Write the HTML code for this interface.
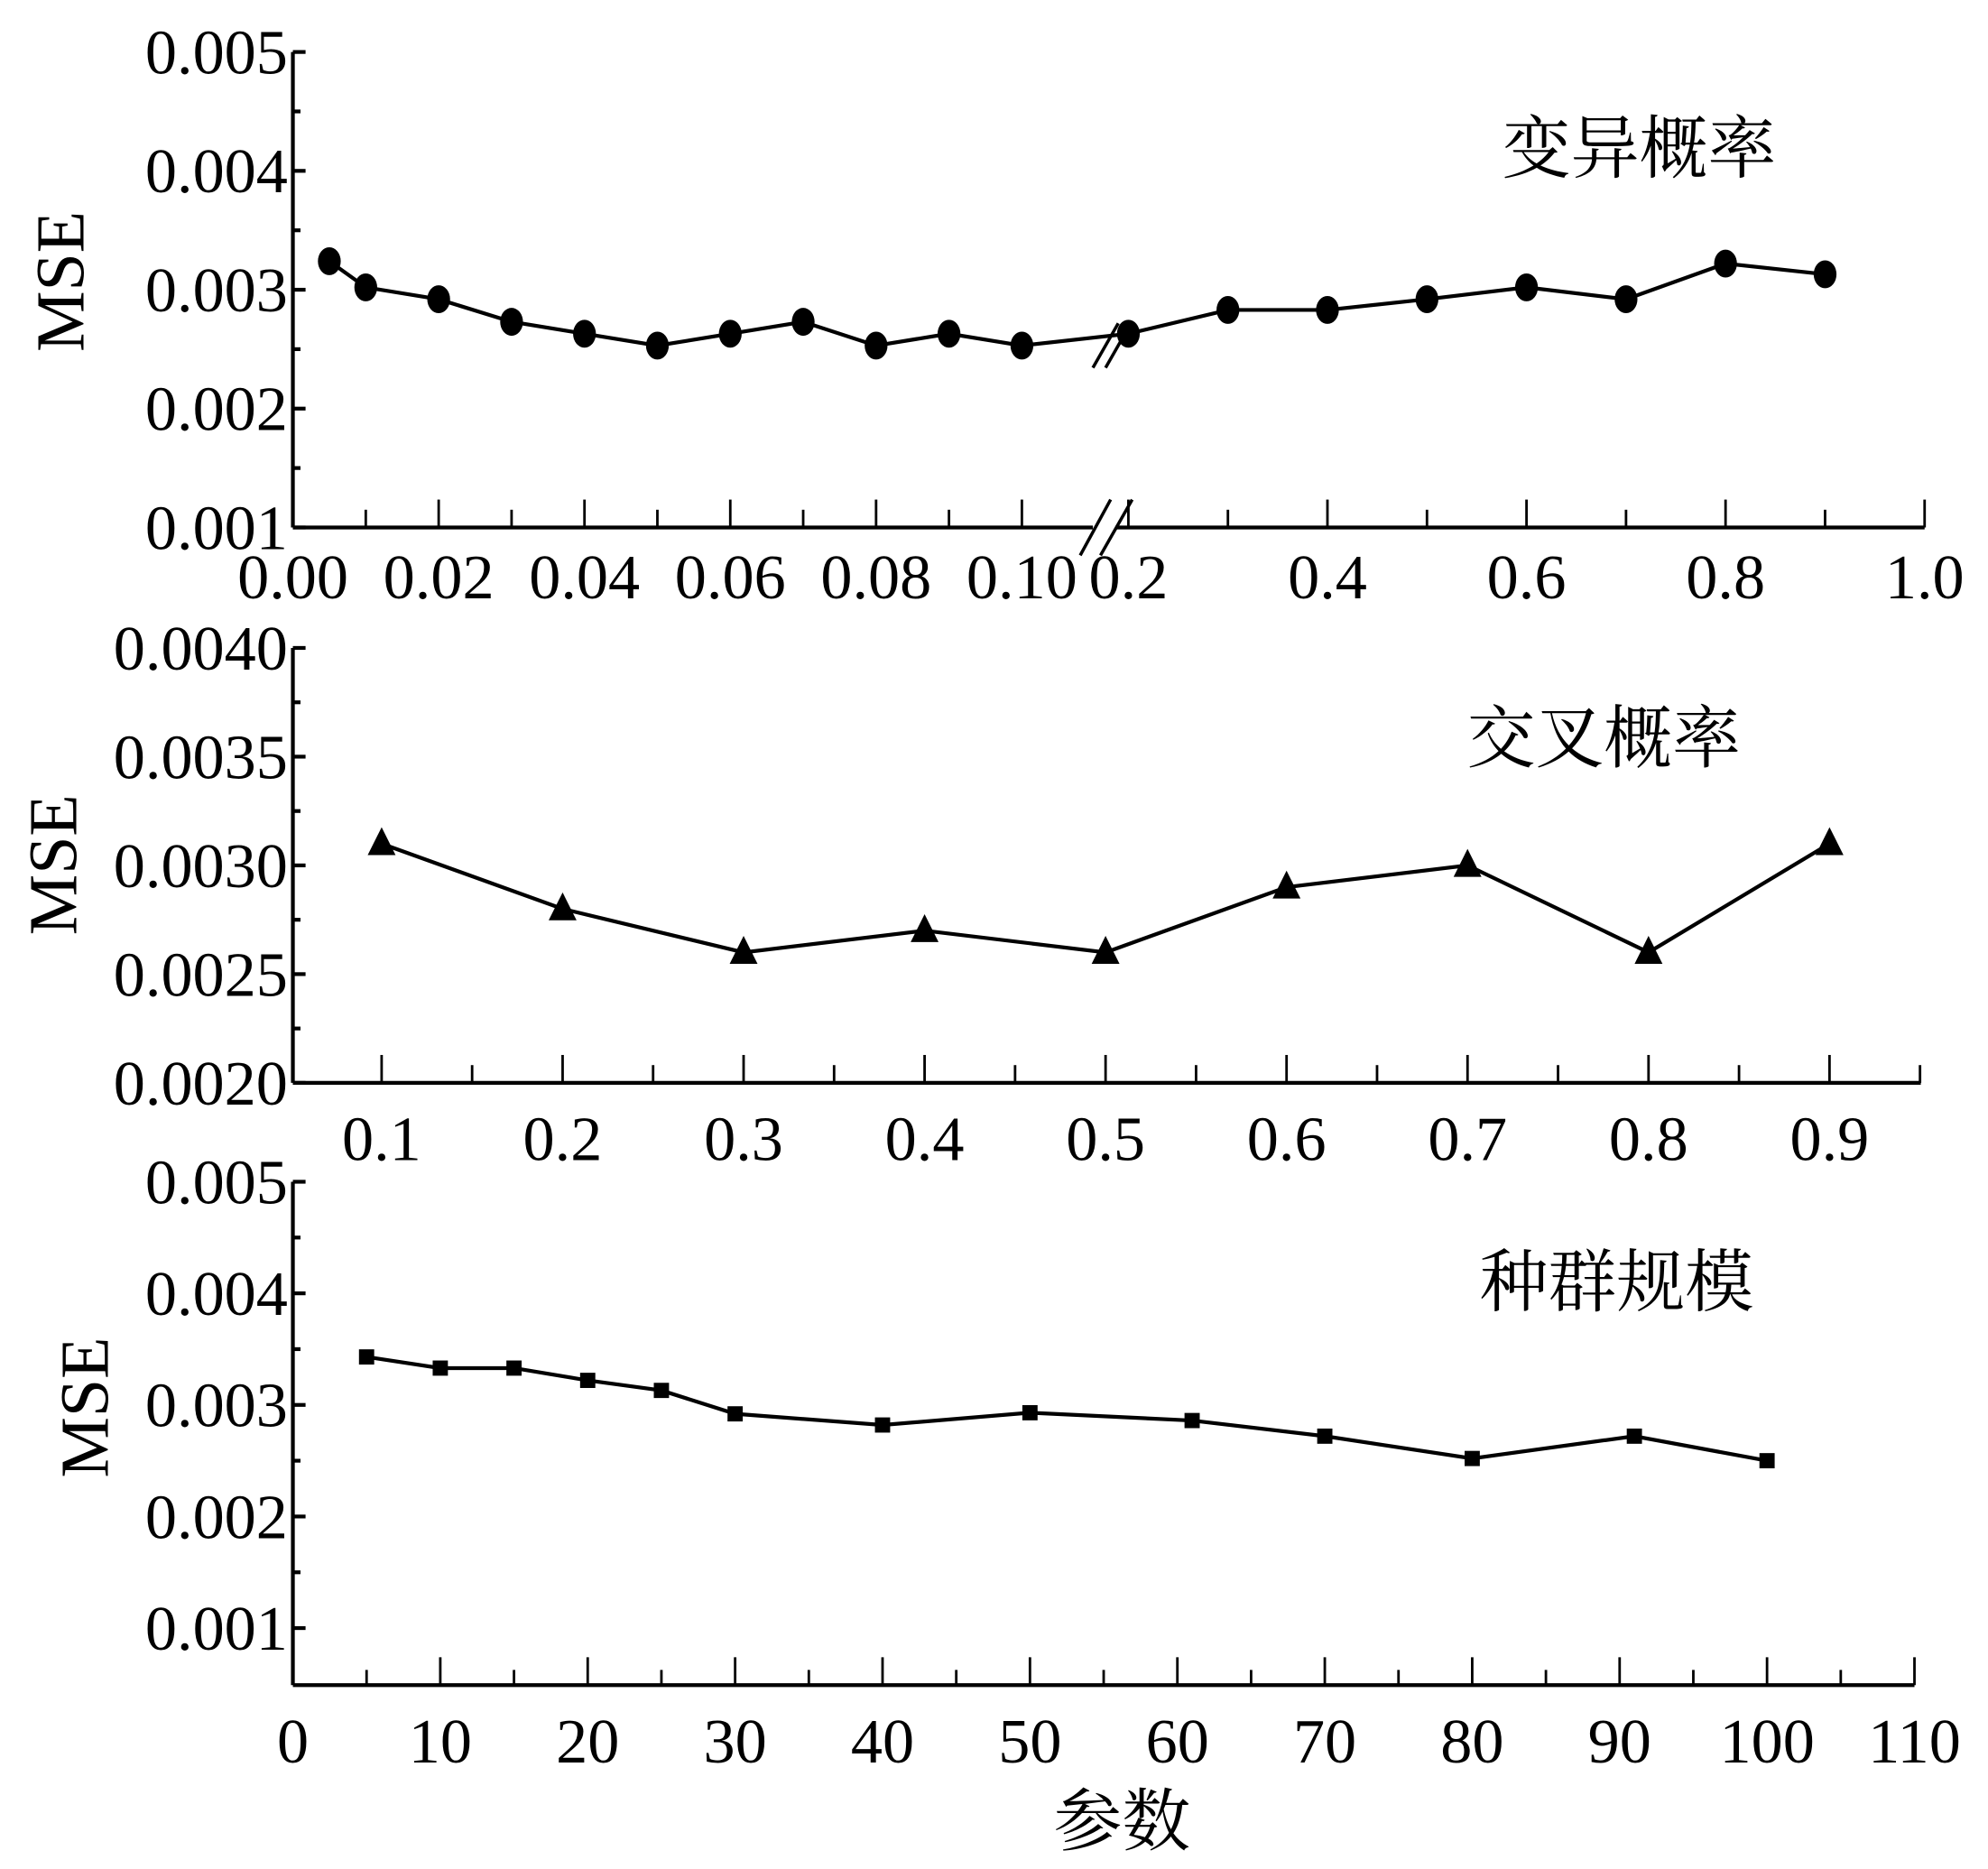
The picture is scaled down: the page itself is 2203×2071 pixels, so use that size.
<!DOCTYPE html>
<html><head><meta charset="utf-8"><style>
html,body{margin:0;padding:0;background:#fff;}
svg{display:block;}
text{font-family:"Liberation Serif","Noto Serif CJK SC","Noto Sans CJK SC",serif;fill:#000;}
</style></head><body>
<svg id="chart" width="2203" height="2071" viewBox="0 0 1568 1474" preserveAspectRatio="none" xmlns="http://www.w3.org/2000/svg">
<text x="1293" y="136" font-size="54" text-anchor="middle">变异概率</text>
<text x="1265" y="601" font-size="54" text-anchor="middle">交叉概率</text>
<text x="1275" y="1030" font-size="54" text-anchor="middle">种群规模</text>
<text transform="translate(66,222) rotate(-90)" font-size="54" text-anchor="middle">MSE</text>
<text transform="translate(60,682) rotate(-90)" font-size="54" text-anchor="middle">MSE</text>
<text transform="translate(85,1110) rotate(-90)" font-size="54" text-anchor="middle">MSE</text>
<text x="885" y="1455" font-size="54" text-anchor="middle">参数</text>
</svg>
<script>
// Panel 1: mutation probability
const p1X = [0.005,0.01,0.02,0.03,0.04,0.05,0.06,0.07,0.08,0.09,0.10,0.2,0.3,0.4,0.5,0.6,0.7,0.8,0.9];
const p1Y = [0.00324,0.00302,0.00292,0.00273,0.00263,0.00253,0.00263,0.00273,0.00253,0.00263,0.00253,0.00263,0.00283,0.00283,0.00292,0.00302,0.00292,0.00322,0.00313];
const p1YTicks = [0.001,0.002,0.003,0.004,0.005];
const p1XTicksLeft = [0.00,0.02,0.04,0.06,0.08,0.10];
const p1XTicksRight = [0.2,0.4,0.6,0.8,1.0];
// Panel 2: crossover probability
const p2X = [0.1,0.2,0.3,0.4,0.5,0.6,0.7,0.8,0.9];
const p2Y = [0.0031,0.0028,0.0026,0.0027,0.0026,0.0029,0.0030,0.0026,0.0031];
const p2YTicks = [0.0020,0.0025,0.0030,0.0035,0.0040];
const p2XTicks = [0.1,0.2,0.3,0.4,0.5,0.6,0.7,0.8,0.9];
// Panel 3: population size
const p3X = [5,10,15,20,25,30,40,50,61,70,80,91,100];
const p3Y = [0.00343,0.00333,0.00333,0.00322,0.00313,0.00292,0.00282,0.00293,0.00286,0.00272,0.00252,0.00272,0.0025];
const p3YTicks = [0.001,0.002,0.003,0.004,0.005];
const p3XTicks = [0,10,20,30,40,50,60,70,80,90,100,110];

const svg = document.getElementById('chart');
const NS = 'http://www.w3.org/2000/svg';
function mk(tag, attrs){const e=document.createElementNS(NS,tag);for(const k in attrs)e.setAttribute(k,attrs[k]);svg.appendChild(e);return e;}

// scales
function x1(v){return v<=0.1 ? 231 + v/0.1*575 : 890 + (v-0.2)/0.8*628;}
function y1(v){return 416 - (v-0.001)/0.004*375;}
function x2(v){return 301 + (v-0.1)/0.8*1142;}
function y2(v){return 854 - (v-0.002)/0.002*343;}
function x3(v){return 231 + v/110*1279;}
function y3(v){return 1284 - (v-0.001)/0.004*352;}

function yAxis(x,yTop,yBot,ticks,ys,fmt,name){
  let l=mk('line',{x1:x,y1:yTop,x2:x,y2:yBot,stroke:'#000','stroke-width':3});
  
  
  ticks.forEach((t,i)=>{
    const y=ys(t);
    const tk=mk('line',{x1:x,y1:y,x2:x+10,y2:y,stroke:'#000','stroke-width':3});
    
    
    const tx=mk('text',{x:x-4,y:y+17,'font-size':50,'text-anchor':'end'});
    tx.textContent=fmt(t);
    
    
    if(i<ticks.length-1){
      const ym=(y+ys(ticks[i+1]))/2;
      const mt=mk('line',{x1:x,y1:ym,x2:x+6,y2:ym,stroke:'#000','stroke-width':3});
      
      
    }
  });
}
function vtick(x,yAx,len,name){
  const t=mk('line',{x1:x,y1:yAx,x2:x,y2:yAx-len,stroke:'#000','stroke-width':2});
  
  
}
function xlabel(x,y,s,name){
  const t=mk('text',{x:x,y:y,'font-size':50,'text-anchor':'middle'});
  t.textContent=s;
  
  
}
function series(xs,ys,X,Y,name){
  const pts=xs.map((v,i)=>X(v)+','+Y(ys[i])).join(' ');
  const pl=mk('polyline',{points:pts,fill:'none',stroke:'#000','stroke-width':3});
  
  
}

// ---- Panel 1
yAxis(231,41,416,p1YTicks,y1,v=>v.toFixed(3),'mutation');
let ax=mk('line',{x1:231,y1:416,x2:862,y2:416,stroke:'#000','stroke-width':3});


ax=mk('line',{x1:880,y1:416,x2:1518,y2:416,stroke:'#000','stroke-width':3});


for(let i=1;i<=10;i++){vtick(x1(i*0.01),416,i%2===0?22:14,'mutation-x-tick');}
for(let i=2;i<=10;i++){vtick(x1(i*0.1),416,i%2===0?22:14,'mutation-x-tick');}
p1XTicksLeft.forEach(v=>xlabel(x1(v),472,v.toFixed(2),'mutation-x-tick-label'));
p1XTicksRight.forEach(v=>xlabel(x1(v),472,v.toFixed(1),'mutation-x-tick-label'));
series(p1X,p1Y,x1,y1,'mutation');
p1X.forEach((v,i)=>{
  const c=mk('ellipse',{cx:x1(v),cy:y1(p1Y[i]),rx:9,ry:11,fill:'#000'});
  
  
});
[[862,290,882,255],[872,290,892,255],[852,438,876,394],[868,438,893,394]].forEach(s=>{
  const b=mk('line',{x1:s[0],y1:s[1],x2:s[2],y2:s[3],stroke:'#000','stroke-width':2.5});
  
  
});

// ---- Panel 2
yAxis(231,511,854,p2YTicks,y2,v=>v.toFixed(4),'crossover');
ax=mk('line',{x1:231,y1:854,x2:1515,y2:854,stroke:'#000','stroke-width':3});


for(let i=1;i<=18;i++){const v=0.05+i*0.05;vtick(x2(v),854,i%2===1?22:14,'crossover-x-tick');}
p2XTicks.forEach(v=>xlabel(x2(v),915,v.toFixed(1),'crossover-x-tick-label'));
series(p2X,p2Y,x2,y2,'crossover');
p2X.forEach((v,i)=>{
  const cx=x2(v),cy=y2(p2Y[i]);
  const t=mk('polygon',{points:(cx-11)+','+(cy+9)+' '+(cx+11)+','+(cy+9)+' '+cx+','+(cy-13),fill:'#000'});
  
  
});

// ---- Panel 3
yAxis(231,932,1329,p3YTicks,y3,v=>v.toFixed(3),'population');
ax=mk('line',{x1:231,y1:1329,x2:1510,y2:1329,stroke:'#000','stroke-width':3});


for(let i=1;i<=22;i++){const v=i*5;vtick(x3(v),1329,i%2===0?22:12,'population-x-tick');}
p3XTicks.forEach(v=>xlabel(x3(v),1390,String(v),'population-x-tick-label'));
series(p3X,p3Y,x3,y3,'population');
p3X.forEach((v,i)=>{
  const r=mk('rect',{x:x3(v)-6,y:y3(p3Y[i])-6,width:12,height:12,fill:'#000'});
  
  
});
</script>
</body></html>
